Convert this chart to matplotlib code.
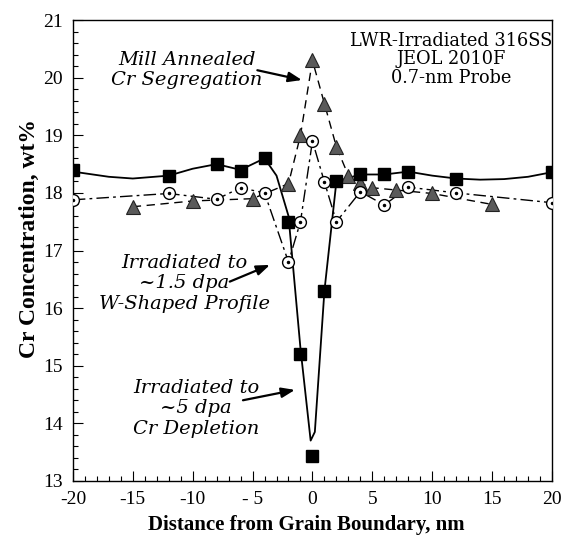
import matplotlib
matplotlib.use("Agg")
import matplotlib.pyplot as plt
from matplotlib.ticker import MultipleLocator

# ---- data ----
x_5dpa = [-20, -12, -8, -6, -4, -2, -1, 0, 1, 2, 4, 6, 8, 12, 20]
y_5dpa = [18.40, 18.30, 18.50, 18.38, 18.60, 17.50, 15.20, 13.43, 16.30, 18.20, 18.32, 18.32, 18.37, 18.25, 18.36]

fit_5dpa_x = [-20, -17, -15, -12, -10, -8, -6, -4, -3, -2, -1, -0.15, 0.2, 1, 2, 4, 6, 8, 10, 12, 14, 16, 18, 20]
fit_5dpa_y = [18.37, 18.28, 18.25, 18.30, 18.42, 18.50, 18.40, 18.60, 18.30, 17.60, 15.30, 13.70, 13.85, 16.30, 18.20,
              18.32, 18.32, 18.37, 18.30, 18.25, 18.23, 18.24, 18.28, 18.36]

x_15dpa = [-20, -12, -8, -6, -4, -2, -1, 0, 1, 2, 4, 6, 8, 12, 20]
y_15dpa = [17.88, 17.99, 17.89, 18.09, 18.00, 16.80, 17.50, 18.90, 18.19, 17.50, 18.02, 17.79, 18.10, 18.00, 17.83]

x_mill = [-15, -10, -5, -2, -1, 0, 1, 2, 3, 4, 5, 7, 10, 15]
y_mill = [17.76, 17.86, 17.90, 18.16, 19.00, 20.30, 19.55, 18.80, 18.30, 18.17, 18.09, 18.05, 17.99, 17.80]

xticks = [-20, -15, -10, -5, 0, 5, 10, 15, 20]
xticklabels = ["-20", "-15", "-10", "- 5", "0", "5", "10", "15", "20"]
yticks = [13, 14, 15, 16, 17, 18, 19, 20, 21]

serif_t = ["Liberation Serif", "DejaVu Serif"]
serif_a = ["DejaVu Serif"]

fig = plt.figure(figsize=(5.65, 5.44), dpi=100)
ax = fig.add_axes([0.129, 0.116, 0.848, 0.847])

# lines
ax.plot(fit_5dpa_x, fit_5dpa_y, color="black", lw=1.3, zorder=2)
ax.plot(x_15dpa, y_15dpa, color="black", lw=1.0, linestyle=(0, (9, 3, 2, 3)), zorder=2)
ax.plot(x_mill, y_mill, color="black", lw=1.0, linestyle=(0, (6, 4)), zorder=2)

# markers
ax.plot(x_mill, y_mill, linestyle="none", marker="^", markersize=10.5,
        markerfacecolor="#5a5a5a", markeredgecolor="#222222", markeredgewidth=0.8, zorder=3)
ax.plot(x_15dpa, y_15dpa, linestyle="none", marker="o", markersize=8.5,
        markerfacecolor="white", markeredgecolor="black", markeredgewidth=1.0, zorder=4)
ax.plot(x_15dpa, y_15dpa, linestyle="none", marker="o", markersize=1.5,
        markerfacecolor="black", markeredgecolor="black", zorder=5)
ax.plot(x_5dpa, y_5dpa, linestyle="none", marker="s", markersize=8.5,
        markerfacecolor="black", markeredgecolor="black", zorder=6)

ax.set_xlim(-20, 20)
ax.set_ylim(13, 21)
ax.set_xticks(xticks)
ax.set_xticklabels(xticklabels)
ax.set_yticks(yticks)
ax.xaxis.set_minor_locator(MultipleLocator(1))
ax.yaxis.set_minor_locator(MultipleLocator(0.2))
ax.tick_params(which="both", direction="in", top=False, right=False, width=0.8)
ax.tick_params(which="major", length=7, pad=7)
ax.tick_params(which="minor", length=3.5)
for lab in ax.get_xticklabels() + ax.get_yticklabels():
    lab.set_family(serif_t)
    lab.set_fontsize(14)
for sp in ax.spines.values():
    sp.set_linewidth(1.0)

ax.set_xlabel("Distance from Grain Boundary, nm", family=serif_t, fontsize=15, fontweight="bold")
ax.set_ylabel("Cr Concentration, wt%", family=serif_t, fontsize=17, fontweight="bold")
ax.xaxis.set_label_coords(0.488, -0.075)
ax.yaxis.set_label_coords(-0.068, 0.525)

# texts
ax.text(11.6, 20.32, "LWR-Irradiated 316SS\nJEOL 2010F\n0.7-nm Probe", family=serif_a,
        fontsize=12.8, ha="center", va="center", linespacing=1.05)

arrow = dict(arrowstyle="-|>,head_length=0.8,head_width=0.3", color="black", lw=1.6, shrinkA=0, shrinkB=0)
ax.text(-10.5, 20.13, "Mill Annealed\nCr Segregation", family=serif_a, style="italic",
        fontsize=14, ha="center", va="center", linespacing=1.15)
ax.annotate("", xy=(-0.88, 19.96), xytext=(-4.6, 20.13), arrowprops=arrow)

ax.text(-10.7, 16.43, "Irradiated to\n~1.5 dpa\nW-Shaped Profile", family=serif_a, style="italic",
        fontsize=14, ha="center", va="center", linespacing=1.2)
ax.annotate("", xy=(-3.55, 16.75), xytext=(-6.9, 16.46), arrowprops=arrow)

ax.text(-9.7, 14.26, "Irradiated to\n~5 dpa\nCr Depletion", family=serif_a, style="italic",
        fontsize=14, ha="center", va="center", linespacing=1.2)
ax.annotate("", xy=(-1.46, 14.58), xytext=(-5.8, 14.40), arrowprops=arrow)

fig.savefig("out.png", dpi=100)
